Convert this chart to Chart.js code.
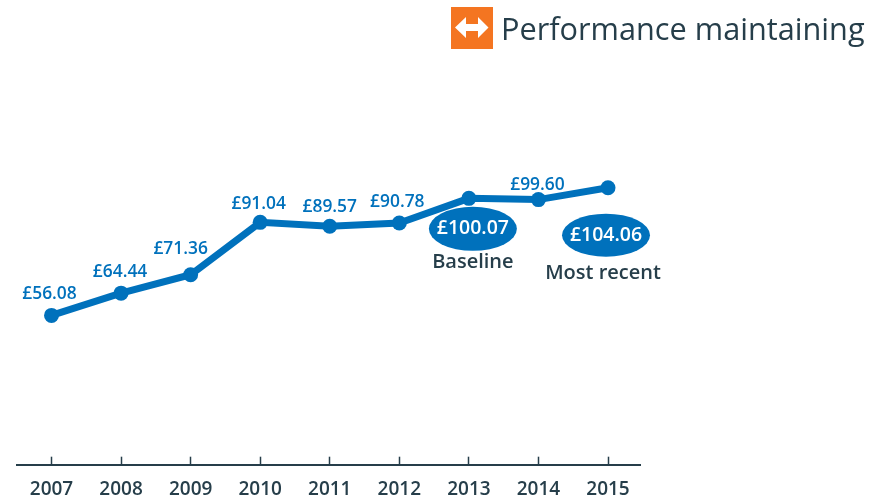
<!DOCTYPE html>
<html><head><meta charset="utf-8">
<script src="https://cdn.jsdelivr.net/npm/chart.js@4"></script>
<style>html,body{margin:0;padding:0;background:#fff}canvas{display:block}</style>
</head><body><canvas id="c" width="887" height="499"></canvas>
<script>
const years = [2007,2008,2009,2010,2011,2012,2013,2014,2015];
const values = [56.08,64.44,71.36,91.04,89.57,90.78,100.07,99.60,104.06];
const valueLabels = ['£56.08','£64.44','£71.36','£91.04','£89.57','£90.78','£100.07','£99.60','£104.06'];
const titleText = 'Performance maintaining';
const baselineText = 'Baseline';
const recentText = 'Most recent';
const blue = '#0071BC', dark = '#263E4A', orange = '#F47521';
const FONT = '"Open Sans"';

const annotate = {
  id:'annotate',
  afterDatasetsDraw(chart){
    const {ctx,scales:{x,y}} = chart;
    ctx.save();
    ctx.textAlign='center'; ctx.textBaseline='middle';
    const off={0:[-2,-21],1:[-1,-21],2:[-10,-26],3:[-1.5,-18.5],4:[0,-19],5:[-2,-21],7:[-1,-15]};
    ctx.font = `600 17.4px ${FONT}`; ctx.fillStyle = blue;
    values.forEach((v,i)=>{
      if(!off[i]) return;
      ctx.fillText(valueLabels[i], x.getPixelForValue(years[i])+off[i][0], y.getPixelForValue(v)+off[i][1]);
    });
    const bubble=(i,dx,dy,rx,ry,under,ux,uy)=>{
      const cx=x.getPixelForValue(years[i])+dx, cy=y.getPixelForValue(values[i])+dy;
      ctx.fillStyle=blue; ctx.beginPath(); ctx.ellipse(cx,cy,rx,ry,0,0,Math.PI*2); ctx.fill();
      ctx.fillStyle='#fff'; ctx.font=`600 19.5px ${FONT}`;
      ctx.fillText(valueLabels[i],cx,cy);
      ctx.fillStyle=dark; ctx.font=`600 20px ${FONT}`;
      ctx.fillText(under,cx+ux,cy+uy);
    };
    bubble(6,4,30.5,44,22,baselineText,0,33);
    bubble(8,-2,47.5,44,21.5,recentText,-3,38);
    ctx.fillStyle=orange; ctx.fillRect(451,7,42,42);
    ctx.fillStyle='#fff'; ctx.beginPath();
    const a=[[455,27.5],[466,17],[466,24],[478,24],[478,17],[488.5,27.5],[478,38],[478,31],[466,31],[466,38]];
    a.forEach((p,i)=>i?ctx.lineTo(p[0],p[1]):ctx.moveTo(p[0],p[1])); ctx.closePath(); ctx.fill();
    ctx.textAlign='left'; ctx.fillStyle=dark; ctx.font=`400 30.7px ${FONT}`;
    ctx.fillText(titleText,501,31);
    ctx.restore();
  }
};

new Chart(document.getElementById('c'),{
  type:'line',
  data:{datasets:[{
    data:years.map((yr,i)=>({x:yr,y:values[i]})),
    borderColor:blue,backgroundColor:blue,borderWidth:7,
    pointRadius:7.5,pointBackgroundColor:blue,pointBorderWidth:0,tension:0,clip:false
  }]},
  options:{
    responsive:false,animation:false,
    layout:{padding:{left:17,right:247,top:58.5,bottom:-22.5}},
    plugins:{legend:{display:false},tooltip:{enabled:false},title:{display:false}},
    scales:{
      y:{display:false,min:0,max:152.6},
      x:{type:'linear',min:2006.504,max:2015.46,
        afterBuildTicks(s){s.ticks=years.map(v=>({value:v}));},
        border:{display:true,color:dark,width:2},
        grid:{drawOnChartArea:false,drawTicks:true,tickLength:-8,color:dark,tickWidth:1.5},
        ticks:{autoSkip:false,maxRotation:0,minRotation:0,padding:21,color:dark,
          font:{family:'Open Sans',size:19,weight:'600'},callback:v=>String(v)}
      }
    }
  },
  plugins:[annotate]
});
</script></body></html>
